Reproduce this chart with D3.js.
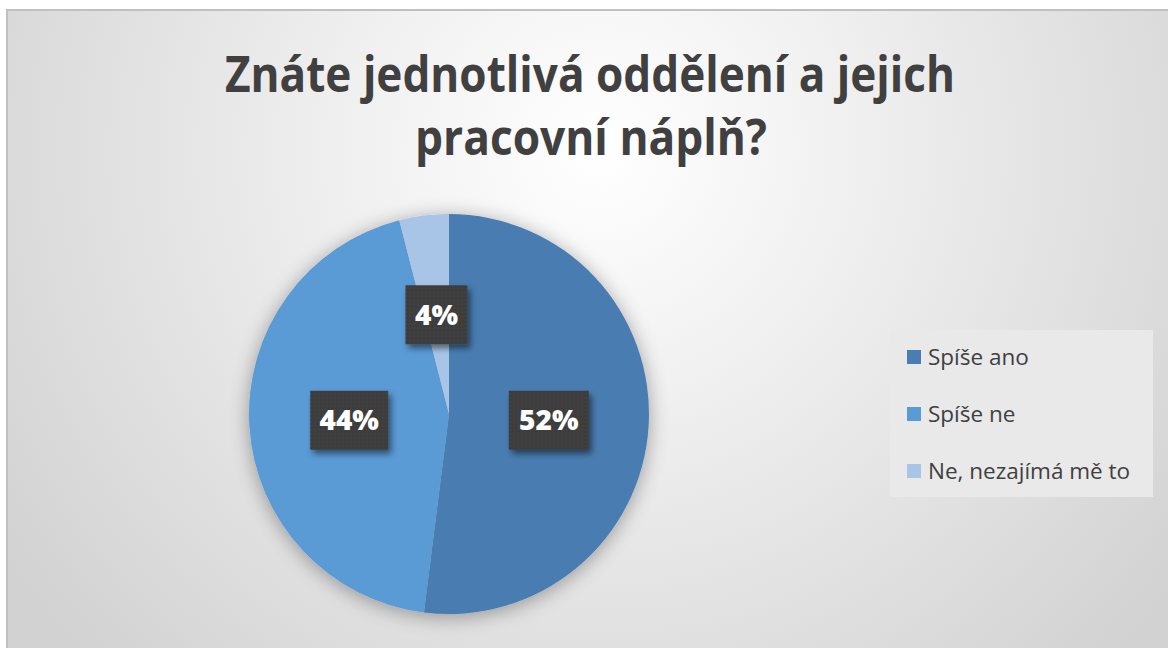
<!DOCTYPE html>
<html><head><meta charset="utf-8">
<script src="https://cdn.jsdelivr.net/npm/d3@7"></script>
<style>html,body{margin:0;padding:0;background:#fff;}svg{display:block;}</style>
</head><body>
<script>
const title = ["Znáte jednotlivá oddělení a jejich", "pracovní náplň?"];
const categories = ["Spíše ano", "Spíše ne", "Ne, nezajímá mě to"];
const values = [13, 11, 1];
const labels = ["52%", "44%", "4%"];
const colors = ["#4a7db1", "#5a9ad5", "#a8c4e6"];

const W = 1168, H = 648;
const svg = d3.select("body").append("svg").attr("width", W).attr("height", H);
const defs = svg.append("defs");

const rg = defs.append("radialGradient").attr("id", "bg")
  .attr("gradientUnits", "userSpaceOnUse").attr("cx", 600).attr("cy", 150).attr("r", 720);
rg.append("stop").attr("offset", "0").attr("stop-color", "#ffffff");
rg.append("stop").attr("offset", "0.35").attr("stop-color", "#f0f0f0");
rg.append("stop").attr("offset", "1").attr("stop-color", "#d2d2d2");

const sh = defs.append("filter").attr("id", "pieShadow").attr("x", "-20%").attr("y", "-20%").attr("width", "140%").attr("height", "140%");
sh.append("feGaussianBlur").attr("in", "SourceAlpha").attr("stdDeviation", 10).attr("result", "b");
sh.append("feOffset").attr("in", "b").attr("dx", 0).attr("dy", 3).attr("result", "o");
sh.append("feComponentTransfer").attr("in", "o").attr("result", "o2")
  .append("feFuncA").attr("type", "linear").attr("slope", 0.35);
const m1 = sh.append("feMerge"); m1.append("feMergeNode").attr("in", "o2"); m1.append("feMergeNode").attr("in", "SourceGraphic");

const bsh = defs.append("filter").attr("id", "boxShadow").attr("x", "-30%").attr("y", "-30%").attr("width", "160%").attr("height", "160%");
bsh.append("feGaussianBlur").attr("in", "SourceAlpha").attr("stdDeviation", 3).attr("result", "b");
bsh.append("feOffset").attr("in", "b").attr("dx", 3).attr("dy", 4).attr("result", "o");
bsh.append("feComponentTransfer").attr("in", "o").attr("result", "o2")
  .append("feFuncA").attr("type", "linear").attr("slope", 0.5);
const m2 = bsh.append("feMerge"); m2.append("feMergeNode").attr("in", "o2"); m2.append("feMergeNode").attr("in", "SourceGraphic");

const pat = defs.append("pattern").attr("id", "dots").attr("patternUnits", "userSpaceOnUse").attr("width", 4).attr("height", 4);
pat.append("rect").attr("width", 4).attr("height", 4).attr("fill", "#3e3e3e");
pat.append("rect").attr("x", 1).attr("y", 1).attr("width", 1).attr("height", 1).attr("fill", "#4a4a4a");

// chart area
svg.append("rect").attr("x", 7).attr("y", 10).attr("width", W).attr("height", H)
  .attr("fill", "url(#bg)").attr("stroke", "#c0c0c0").attr("stroke-width", 2);

// title
const tg = svg.append("g").attr("fill", "#404040")
  .style("font-family", "'Open Sans', sans-serif").style("font-weight", 700).style("font-size", "51px");
tg.append("text").attr("x", 590).attr("y", 92).attr("text-anchor", "middle")
  .attr("textLength", 730).attr("lengthAdjust", "spacingAndGlyphs").text(title[0]);
tg.append("text").attr("x", 591).attr("y", 155).attr("text-anchor", "middle")
  .attr("textLength", 352).attr("lengthAdjust", "spacingAndGlyphs").text(title[1]);

// pie
const cx = 449, cy = 414, R = 200;
const pie = d3.pie().sort(null).value(d => d)(values);
const arc = d3.arc().innerRadius(0).outerRadius(R);
const lab = d3.arc().innerRadius(R * 0.5).outerRadius(R * 0.5);
const pg = svg.append("g").attr("transform", `translate(${cx},${cy})`);
pg.append("g").attr("filter", "url(#pieShadow)").selectAll("path").data(pie).join("path")
  .attr("d", arc).attr("fill", (d, i) => colors[i]);

const boxW = [80, 78, 62], boxH = 59;
const lg = pg.append("g").selectAll("g").data(pie).join("g")
  .attr("transform", d => { const c = lab.centroid(d); return `translate(${c[0]},${c[1]})`; });
lg.append("rect").attr("x", (d, i) => -boxW[i] / 2).attr("y", -boxH / 2)
  .attr("width", (d, i) => boxW[i]).attr("height", boxH)
  .attr("fill", "url(#dots)").attr("filter", "url(#boxShadow)");
lg.append("text").attr("text-anchor", "middle").attr("dy", "0.36em")
  .attr("fill", "#ffffff").style("font-family", "'Open Sans', sans-serif")
  .style("font-weight", 800).style("font-size", "28px")
  .text((d, i) => labels[i]);

// legend
const leg = svg.append("g");
leg.append("rect").attr("x", 890).attr("y", 330).attr("width", 263).attr("height", 167).attr("fill", "#e9e9e9");
const li = leg.selectAll("g.it").data(categories).join("g").attr("class", "it")
  .attr("transform", (d, i) => `translate(907,${357 + i * 57})`);
li.append("rect").attr("x", 0).attr("y", -7).attr("width", 14).attr("height", 14).attr("fill", (d, i) => colors[i]);
li.append("text").attr("x", 21).attr("y", 0).attr("dy", "0.35em").attr("fill", "#404040")
  .style("font-family", "'Open Sans', sans-serif").style("font-size", "22.5px").text(d => d);
</script>
</body></html>
